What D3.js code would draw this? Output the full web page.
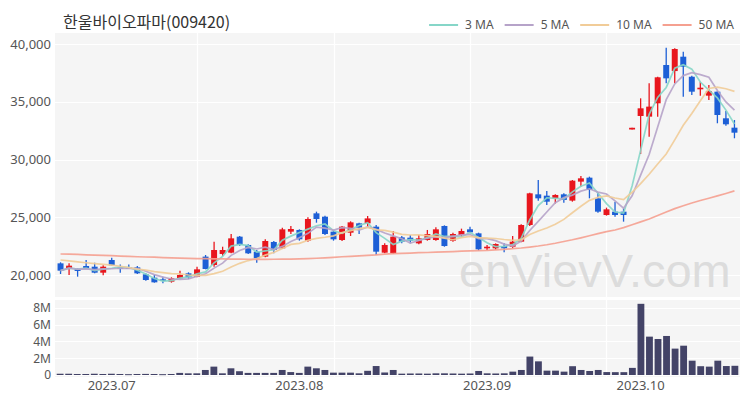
<!DOCTYPE html>
<html><head><meta charset="utf-8">
<script src="https://cdn.jsdelivr.net/npm/d3@7/dist/d3.min.js"></script>
<style>body{margin:0;background:#fff}svg{display:block}</style>
</head><body>
<svg id="chart" width="750" height="400"></svg>
<script>
const title = "한울바이오파마(009420)";
const opens = [21010,20520,20520,20780,20720,20200,21300,20693,20660,20660,20058,19770,19625,19423,19711,20144,19855,21590,20866,21820,21934,23320,22600,22020,21588,22860,22310,23753,23900,22975,25340,25050,23753,23030,23665,24475,24475,24186,21934,21877,23262,23233,22740,23030,23030,24245,22975,23464,23955,23608,22310,22310,22510,22450,22887,24330,26986,26870,26640,26986,26440,28084,28430,26640,25197,25485,25485,32600,33771,33713,34870,38186,37660,38905,37170,36080,35530,35875,33570,32760];
const highs = [21100,21010,20580,21300,21070,20840,21500,20920,20920,20780,20144,20000,19855,19800,20375,20230,20720,21730,22887,22450,23550,23377,22656,22165,23090,22945,24100,24245,23955,24995,25485,25140,23900,24245,24650,24530,25110,24330,22740,23810,23377,23464,23464,23900,24130,24300,23665,24013,24186,23665,22600,22740,22740,23377,24390,27130,28228,27275,26986,27073,28228,28574,28517,27130,25832,26350,25774,32750,35300,36600,37170,39685,39630,39340,37250,36740,36450,35935,34200,33420];
const lows = [20087,20000,19855,20580,20144,19970,20780,20200,20550,20087,19510,19336,19280,19336,19625,19650,19800,20490,20720,21645,21877,22510,21820,21070,21530,21877,22250,23550,22975,22887,24530,23464,22975,22945,23377,23550,24186,21732,21877,21820,22740,22740,22656,22975,22975,22450,22887,23320,23608,22107,22165,22165,21980,22310,22830,24245,26440,26060,26200,26265,26350,27650,26640,25400,25140,25050,24620,32600,30480,31980,33710,36600,36600,35440,35590,35530,35155,33140,32930,31840];
const closes = [20375,20808,20350,20606,20200,20720,20837,20550,20550,20144,19567,19365,19480,19711,20000,19800,20490,20520,22165,22165,23175,22600,21877,21443,22945,22165,23955,23984,23090,24850,24850,23550,23090,24186,24560,24100,24900,22020,22600,23320,22887,22975,23175,23550,23955,22510,23550,23810,23695,22223,22450,22685,22310,22887,24330,27073,26640,26350,26930,26500,28170,28372,27362,25485,25687,25197,25197,32750,34435,34580,37120,37030,39570,38040,35875,36220,35935,33856,33050,32325];
const volumes = [150000,150000,120000,120000,150000,120000,150000,120000,100000,120000,130000,120000,100000,120000,250000,200000,200000,600000,1000000,200000,800000,450000,250000,250000,250000,250000,600000,350000,250000,1000000,800000,600000,280000,280000,280000,200000,500000,1070000,300000,600000,160000,180000,180000,160000,200000,200000,180000,160000,180000,480000,200000,180000,200000,400000,600000,2200000,1630000,520000,520000,400000,1050000,600000,480000,600000,350000,340000,340000,850000,8500000,4580000,4300000,4660000,3150000,3500000,1710000,1050000,1000000,1710000,1070000,1100000];
const ma50 = [21820,21800,21780,21750,21720,21700,21670,21640,21610,21580,21560,21540,21510,21490,21460,21440,21420,21410,21400,21390,21380,21370,21365,21360,21360,21365,21370,21380,21400,21420,21450,21490,21530,21580,21620,21660,21700,21740,21800,21850,21880,21900,21930,21950,21980,22000,22030,22060,22090,22110,22130,22170,22220,22280,22340,22420,22510,22620,22750,22900,23050,23220,23400,23580,23750,23900,24100,24350,24600,24850,25150,25450,25750,26000,26230,26450,26650,26850,27060,27280];
const ma10Start = [21300,21220,21140,21060,20990,20920,20850,20760,20650];
const categories = d3.range(closes.length);
const monthTickIndex = [6,28,50,68];
const monthTickLabels = ["2023.07","2023.08","2023.09","2023.10"];
const priceTicks = [20000,25000,30000,35000,40000];
const volumeTicks = [0,2000000,4000000,6000000,8000000];
const volumeTickLabels = ["0","2M","4M","6M","8M"];
const gridIndex = [16,32,48,64];
const maNames = ["3 MA","5 MA","10 MA","50 MA"];
const maColors = ["#86d6c8","#b6a3c9","#f1cc98","#f5a090"];

function movingAvg(period, start){
  return closes.map((c,i)=>{
    if (start && i < start.length) return start[i];
    const from = Math.max(0, i-period+1);
    return d3.mean(closes.slice(from, i+1));
  });
}
const ma3 = movingAvg(3);
const ma5 = movingAvg(5);
const ma10 = movingAvg(10, ma10Start);
const maSeries = [ma3, ma5, ma10, ma50];

const svg = d3.select("#chart");
const L = 55, R = 740, pTop = 33, pBot = 297, vTop = 300, vBot = 377;
const font = "'Noto Sans CJK KR','Noto Sans',sans-serif";
const numFont = "'Noto Sans',sans-serif";

const x = d3.scaleBand().domain(categories).range([L, R]).padding(0.3);
const xv = d3.scaleBand().domain(categories).range([L, R]).padding(0.2);
const cx = i => x(i) + x.bandwidth()/2;
const y = d3.scaleLinear().domain([18095, 40957]).range([pBot, pTop]);
const yv = d3.scaleLinear().domain([0, 8955000]).range([375, vTop]);

// panels
svg.append("rect").attr("x",L).attr("y",pTop).attr("width",R-L).attr("height",pBot-pTop).attr("fill","#f5f5f5");
svg.append("rect").attr("x",L).attr("y",vTop).attr("width",R-L).attr("height",vBot-vTop).attr("fill","#f5f5f5");

// grid
const g = svg.append("g");
g.selectAll(".hp").data(priceTicks).join("line")
  .attr("x1",L).attr("x2",R).attr("y1",d=>Math.round(y(d))+0.5).attr("y2",d=>Math.round(y(d))+0.5)
  .attr("stroke","#ffffff").attr("stroke-width",1.2);
g.selectAll(".hv").data(volumeTicks).join("line")
  .attr("x1",L).attr("x2",R).attr("y1",d=>Math.round(yv(d))+0.5).attr("y2",d=>Math.round(yv(d))+0.5)
  .attr("stroke","#ffffff").attr("stroke-width",1.2);
gridIndex.forEach(i=>{
  [[pTop,pBot],[vTop,vBot]].forEach(([a,b])=>{
    g.append("line").attr("x1",Math.round(cx(i))+0.5).attr("x2",Math.round(cx(i))+0.5)
      .attr("y1",a).attr("y2",b).attr("stroke","#ffffff").attr("stroke-width",1.2);
  });
});

// watermark
svg.append("text").attr("x",459).attr("y",287).text("enVievV.com")
  .attr("font-family","'Liberation Sans',Arial,sans-serif").attr("font-size",47)
  .attr("fill","#dcdcdc");

// axes labels
const yAxis = d3.axisLeft(y).tickValues(priceTicks).tickFormat(d3.format(",")).tickSize(0).tickPadding(4);
const ya = svg.append("g").attr("transform",`translate(${L},0)`).call(yAxis);
ya.select(".domain").remove();
ya.selectAll("text").attr("font-family",numFont).attr("font-size",13).attr("fill","#555");

const vAxis = d3.axisLeft(yv).tickValues(volumeTicks).tickFormat((d,i)=>volumeTickLabels[i]).tickSize(0).tickPadding(4);
const va = svg.append("g").attr("transform",`translate(${L},0)`).call(vAxis);
va.select(".domain").remove();
va.selectAll("text").attr("font-family",numFont).attr("font-size",12).attr("fill","#555");

const xAxis = d3.axisBottom(x).tickValues(monthTickIndex).tickFormat((d,i)=>monthTickLabels[i]).tickSize(0).tickPadding(4);
const xa = svg.append("g").attr("transform",`translate(0,${vBot})`).call(xAxis);
xa.select(".domain").remove();
xa.selectAll("text").attr("font-family",numFont).attr("font-size",13).attr("fill","#555");

// volume bars
svg.append("g").selectAll("rect").data(categories).join("rect")
  .attr("x",i=>xv(i)).attr("width",xv.bandwidth())
  .attr("y",i=>yv(volumes[i])).attr("height",i=>Math.max(1, yv(0)-yv(volumes[i])))
  .attr("fill","#434367");

// candles
const up = "#e8161d", down = "#1d5fd6";
const cg = svg.append("g");
cg.selectAll("line").data(categories).join("line")
  .attr("x1",cx).attr("x2",cx)
  .attr("y1",i=>y(highs[i])).attr("y2",i=>y(lows[i]))
  .attr("stroke",i=>closes[i]>=opens[i]?up:down).attr("stroke-width",1.3);
cg.selectAll("rect").data(categories).join("rect")
  .attr("x",i=>x(i)).attr("width",x.bandwidth())
  .attr("y",i=>y(Math.max(opens[i],closes[i])))
  .attr("height",i=>Math.max(1.5, Math.abs(y(opens[i])-y(closes[i]))))
  .attr("fill",i=>closes[i]>=opens[i]?up:down);

// moving averages
const line = d3.line().x((d,i)=>cx(i)).y(d=>y(d)).curve(d3.curveLinear);
maSeries.forEach((s,k)=>{
  svg.append("path").attr("d",line(s)).attr("fill","none")
    .attr("stroke",maColors[k]).attr("stroke-width",1.7).attr("stroke-opacity",0.9);
});

// title
svg.append("text").attr("x",63).attr("y",28).text(title)
  .attr("font-family",font).attr("font-size",16).attr("fill","#333");

// legend (right aligned)
const lg = svg.append("g");
let pos = 734;
const items = maNames.map((n,k)=>({n,k})).reverse();
items.forEach(({n,k})=>{
  const t = lg.append("text").attr("y",29).text(n)
    .attr("font-family",numFont).attr("font-size",12).attr("fill","#555");
  const w = t.node().getComputedTextLength();
  t.attr("x",pos - w);
  lg.append("line").attr("x1",pos-w-36).attr("x2",pos-w-7).attr("y1",25).attr("y2",25)
    .attr("stroke",maColors[k]).attr("stroke-width",2);
  pos = pos - w - 36 - 11;
});
</script>
</body></html>
